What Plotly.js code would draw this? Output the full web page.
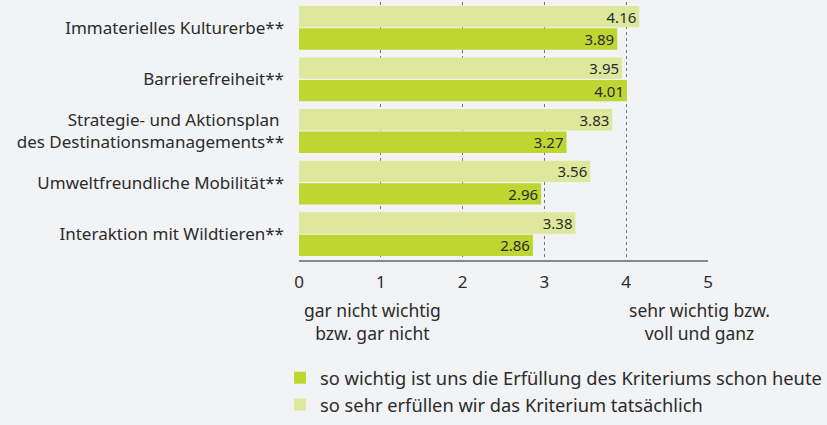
<!DOCTYPE html>
<html>
<head>
<meta charset="utf-8">
<script src="https://cdn.plot.ly/plotly-3.0.1.min.js"></script>
<style>html,body{margin:0;padding:0;background:#f2f3f5;}</style>
</head>
<body>
<div id="chart" style="width:827px;height:425px;"></div>
<script>
const categories = [
  "Immaterielles Kulturerbe**",
  "Barrierefreiheit**",
  "Strategie- und Aktionsplan <br>des Destinationsmanagements**",
  "Umweltfreundliche Mobilität**",
  "Interaktion mit Wildtieren**"
];
const erfuellung = [4.16, 3.95, 3.83, 3.56, 3.38];
const wichtigkeit = [3.89, 4.01, 3.27, 2.96, 2.86];
const seriesNames = [
  "so sehr erfüllen wir das Kriterium tatsächlich",
  "so wichtig ist uns die Erfüllung des Kriteriums schon heute"
];
const xTicks = [0, 1, 2, 3, 4, 5];

const font = "Noto Sans, Open Sans, sans-serif";
const txt = "#2b2b2b";

const traces = [
  {
    type: "bar", orientation: "h", y: categories, x: erfuellung, name: seriesNames[0],
    marker: {color: "#dde89c"},
    text: erfuellung.map(v => v.toFixed(2)), textposition: "inside", insidetextanchor: "end",
    constraintext: "none",
    textfont: {family: font, size: 15, color: txt}, cliponaxis: false, hoverinfo: "skip"
  },
  {
    type: "bar", orientation: "h", y: categories, x: wichtigkeit, name: seriesNames[1],
    marker: {color: "#bed632"},
    text: wichtigkeit.map(v => v.toFixed(2)), textposition: "inside", insidetextanchor: "end",
    constraintext: "none",
    textfont: {family: font, size: 15, color: txt}, cliponaxis: false, hoverinfo: "skip"
  }
];

const layout = {
  width: 827, height: 425,
  margin: {l: 299, r: 119, t: 2, b: 157},
  paper_bgcolor: "#f2f3f5", plot_bgcolor: "#f2f3f5",
  font: {family: font, size: 17, color: txt},
  barmode: "group", bargap: 0.13, bargroupgap: 0.05,
  showlegend: true,
  legend: {
    x: -0.043, y: -0.385, xanchor: "left", yanchor: "top",
    traceorder: "reversed", bgcolor: "rgba(0,0,0,0)",
    font: {family: font, size: 18.3, color: txt}, tracegroupgap: 0
  },
  xaxis: {
    range: [0, 5], tickvals: xTicks, ticktext: xTicks.map(String),
    showgrid: true, gridcolor: "#777", griddash: "dot", gridwidth: 1,
    zeroline: false, showline: true, linecolor: "#888", linewidth: 1.5,
    ticks: "", ticklabelstandoff: 6,
    tickfont: {family: font, size: 17, color: txt}, fixedrange: true
  },
  yaxis: {
    type: "category", autorange: "reversed",
    showgrid: false, zeroline: false, showline: false,
    ticks: "", ticklabelstandoff: 14,
    tickfont: {family: font, size: 17, color: txt}, fixedrange: true
  },
  annotations: [
    {xref: "x", yref: "paper", x: 0.9, y: -0.14, yanchor: "top", showarrow: false,
     text: "gar nicht wichtig<br>bzw. gar nicht", align: "center",
     font: {family: font, size: 17.5, color: txt}},
    {xref: "x", yref: "paper", x: 4.9, y: -0.14, yanchor: "top", showarrow: false,
     text: "sehr wichtig bzw.<br>voll und ganz", align: "center",
     font: {family: font, size: 17.5, color: txt}}
  ]
};

Plotly.newPlot("chart", traces, layout, {displayModeBar: false, staticPlot: true});
</script>
</body>
</html>
